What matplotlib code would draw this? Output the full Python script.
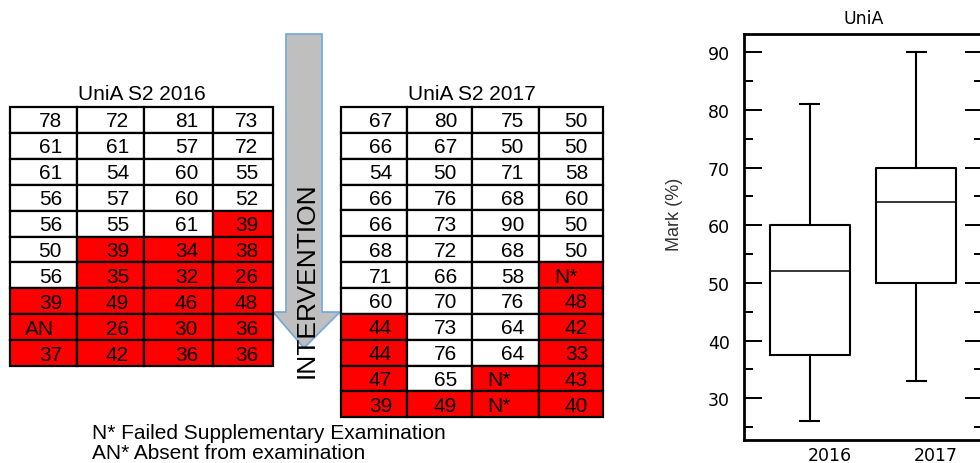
import matplotlib
matplotlib.use('Agg')
import matplotlib.pyplot as plt
import matplotlib.transforms as mtransforms
from matplotlib.patches import Rectangle, Polygon
import numpy as np

# marks per student, as printed in the two tables (AN / N* = no mark)
s2016 = [[78, 72, 81, 73], [61, 61, 57, 72], [61, 54, 60, 55], [56, 57, 60, 52],
         [56, 55, 61, 39], [50, 39, 34, 38], [56, 35, 32, 26], [39, 49, 46, 48],
         ['AN', 26, 30, 36], [37, 42, 36, 36]]
s2017 = [[67, 80, 75, 50], [66, 67, 50, 50], [54, 50, 71, 58], [66, 76, 68, 60],
         [66, 73, 90, 50], [68, 72, 68, 50], [71, 66, 58, 'N*'], [60, 70, 76, 48],
         [44, 73, 64, 42], [44, 76, 64, 33], [47, 65, 'N*', 43], [39, 49, 'N*', 40]]
pass_mark = 50
years = ['2016', '2017']
notes = ['N* Failed Supplementary Examination', 'AN* Absent from examination']

W, H = 980, 464
fig = plt.figure(figsize=(W / 100, H / 100), dpi=100)

# overlay in pixel coords for the tables / arrow
ov = fig.add_axes([0, 0, 1, 1])
ov.set_xlim(0, W)
ov.set_ylim(H, 0)
ov.axis('off')

tfont = ['Liberation Sans', 'DejaVu Sans']


def draw_table(data, title, col_edges, top, row_h):
    for r, row in enumerate(data):
        y0 = top + r * row_h
        for c, v in enumerate(row):
            x0, x1 = col_edges[c], col_edges[c + 1]
            failed = isinstance(v, str) or v < pass_mark
            ov.add_patch(Rectangle((x0, y0), x1 - x0, row_h, facecolor='#FF0000' if failed else 'white',
                                   edgecolor='black', lw=1.6, zorder=2))
            if isinstance(v, str):
                ov.text(x0 + 15, y0 + row_h / 2 + 1, v, ha='left', va='center', fontsize=15,
                        family=tfont, zorder=3)
            else:
                ov.text(x1 - 15, y0 + row_h / 2 + 1, str(v), ha='right', va='center', fontsize=15,
                        family=tfont, zorder=3)
    ov.text((col_edges[0] + col_edges[-1]) / 2, top - 13, title, ha='center', va='center',
            fontsize=15, family=tfont)


draw_table(s2016, 'UniA S2 2016', [10, 77, 144, 213, 273], 108, 25.9)
draw_table(s2017, 'UniA S2 2017', [341, 407, 472, 539, 603], 108, 25.85)

# intervention arrow
sx0, sx1, stop, hy, hx0, hx1, tip = 286, 322, 35, 313, 273, 340, (304, 349)
arrow = Polygon([(sx0, stop), (sx1, stop), (sx1, hy), (hx1, hy), tip, (hx0, hy), (sx0, hy)],
                closed=True, facecolor='#BFBFBF', edgecolor='#6FA8DC', lw=1.2, zorder=1)
ov.add_patch(arrow)
ov.text(307, 280, 'INTERVENTION', rotation=90, ha='center', va='center', fontsize=19,
        family=tfont, zorder=4)

for i, t in enumerate(notes):
    ov.text(92, 439 + i * 20, t, ha='left', va='baseline', fontsize=15, family=tfont)

# box plot of the marks that exist
vals = [[v for row in d for v in row if not isinstance(v, str)] for d in (s2016, s2017)]

ax = fig.add_axes([744 / W, (H - 441) / H, (983 - 744) / W, (441 - 35) / H])
lw = 1.5
ax.boxplot(vals, positions=[1, 2], widths=0.755, whis=(0, 100), capwidths=0.18,
           boxprops=dict(lw=lw, color='black'), whiskerprops=dict(lw=lw, color='black'),
           capprops=dict(lw=lw, color='black'), medianprops=dict(lw=1.1, color='black'))
ax.set_xlim(0.38, 2.63)
ax.set_ylim(22.77, 93.17)
ax.set_yticks(np.arange(30, 91, 10))
ax.set_yticks(np.arange(25, 90, 10), minor=True)
ax.tick_params(axis='y', which='both', direction='in', left=True, right=True, width=1.4)
ax.tick_params(axis='y', which='major', length=13, pad=10, labelsize=12.5)
ax.tick_params(axis='y', which='minor', length=6.5)
ax.set_xticks([1, 2])
ax.set_xticklabels(years, fontsize=12.5)
ax.tick_params(axis='x', length=0, pad=4)
shift = mtransforms.ScaledTranslation(20 / 100, 0, fig.dpi_scale_trans)
for lab in ax.get_xticklabels():
    lab.set_transform(lab.get_transform() + shift)
for sp in ax.spines.values():
    sp.set_linewidth(2)
ax.set_title('UniA', fontsize=12.5, pad=8)
ax.set_ylabel('Mark (%)', fontsize=13, color='#333333',
              family=['Liberation Sans Narrow', 'Liberation Sans', 'DejaVu Sans'])
ax.yaxis.set_label_coords(-0.255, 0.559)

fig.savefig('out.png', dpi=100)
